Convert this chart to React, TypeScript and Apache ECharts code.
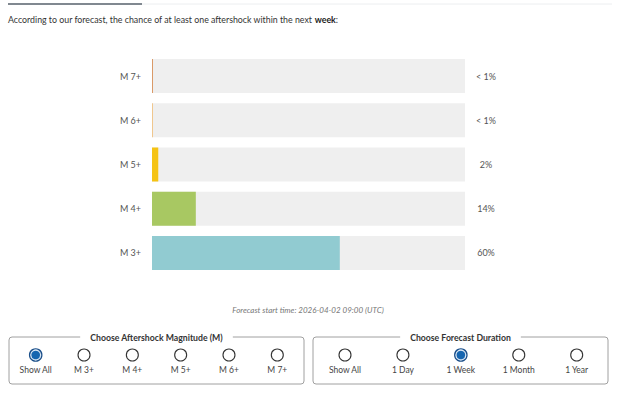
import React, { useEffect, useRef } from "react";
import * as echarts from "echarts";

const categories = ["M 7+", "M 6+", "M 5+", "M 4+", "M 3+"];
const chanceValues = [0.3, 0.3, 2, 14, 60];
const chanceLabels = ["< 1%", "< 1%", "2%", "14%", "60%"];
const barColors = ["#d9955f", "#f0c588", "#f5c314", "#a8c862", "#91cbd1"];
const magnitudeOptions = ["Show All", "M 3+", "M 4+", "M 5+", "M 6+", "M 7+"];
const durationOptions = ["Show All", "1 Day", "1 Week", "1 Month", "1 Year"];
const selectedMagnitude = 0;
const selectedDuration = 2;

const FONT = "Lato, 'Noto Sans', sans-serif";

function radioGroup(
  title: string,
  options: string[],
  selected: number,
  left: number,
  width: number,
  firstX: number,
  lastX: number
) {
  const top = 337;
  const height = 47;
  const els: any[] = [];
  els.push({
    type: "rect",
    shape: { x: left, y: top, width, height, r: 3 },
    style: { fill: "none", stroke: "#a0a0a0", lineWidth: 1 },
  });
  els.push({
    type: "text",
    x: left + width / 2,
    y: top,
    style: {
      text: title,
      fill: "#333",
      font: `bold 8.7px ${FONT}`,
      align: "center",
      verticalAlign: "middle",
      backgroundColor: "#fff",
      padding: [0, 10],
    },
  });
  const step = (lastX - firstX) / (options.length - 1);
  options.forEach((o, i) => {
    const cx = firstX + i * step;
    if (i === selected) {
      els.push({
        type: "circle",
        shape: { cx, cy: 355, r: 6.2 },
        style: { fill: "#dbe8f5", stroke: "#1b4f8a", lineWidth: 1.2 },
      });
      els.push({
        type: "circle",
        shape: { cx, cy: 355, r: 4.3 },
        style: { fill: "#1565b0" },
      });
    } else {
      els.push({
        type: "circle",
        shape: { cx, cy: 355, r: 6 },
        style: { fill: "#fff", stroke: "#333", lineWidth: 1.1 },
      });
    }
    els.push({
      type: "text",
      x: cx,
      y: 369.5,
      style: {
        text: o,
        fill: "#444",
        font: `8.5px ${FONT}`,
        align: "center",
        verticalAlign: "middle",
      },
    });
  });
  return els;
}

export default function App() {
  const ref = useRef<HTMLDivElement>(null);
  useEffect(() => {
    if (!ref.current) return;
    const chart = echarts.init(ref.current, undefined, { renderer: "svg" });
    chart.setOption({
      animation: false,
      backgroundColor: "#fff",
      grid: { left: 152, right: 155, top: 54, height: 221, containLabel: false },
      xAxis: {
        type: "value",
        min: 0,
        max: 100,
        show: false,
      },
      yAxis: [
        {
          type: "category",
          data: categories,
          inverse: true,
          axisLine: { show: false },
          axisTick: { show: false },
          axisLabel: { margin: 11, color: "#555", fontSize: 9, fontFamily: FONT },
        },
        {
          type: "category",
          data: chanceLabels,
          inverse: true,
          position: "right",
          axisLine: { show: false },
          axisTick: { show: false },
          axisLabel: {
            margin: 21,
            align: "center",
            color: "#555",
            fontSize: 9,
            fontFamily: FONT,
          },
        },
      ],
      series: [
        {
          type: "bar",
          yAxisIndex: 0,
          data: chanceValues.map((v, i) => ({ value: v, itemStyle: { color: barColors[i] } })),
          barWidth: 34,
          showBackground: true,
          backgroundStyle: { color: "#efefef" },
        },
      ],
      graphic: [
        {
          type: "line",
          shape: { x1: 142, y1: 4, x2: 612, y2: 4 },
          style: { stroke: "#eceef0", lineWidth: 1 },
        },
        {
          type: "line",
          shape: { x1: 8, y1: 4, x2: 142, y2: 4 },
          style: { stroke: "#56606b", lineWidth: 1.6 },
        },
        {
          type: "text",
          x: 8,
          y: 19,
          style: {
            text: "According to our forecast, the chance of at least one aftershock within the next {b|week}:",
            fill: "#333",
            font: `8.8px ${FONT}`,
            verticalAlign: "middle",
            rich: { b: { fontWeight: "bold", fill: "#222", fontSize: 8.8, fontFamily: FONT } },
          },
        },
        {
          type: "text",
          x: 308,
          y: 310,
          style: {
            text: "Forecast start time: 2026-04-02 09:00 (UTC)",
            fill: "#777",
            font: `italic 8px ${FONT}`,
            align: "center",
            verticalAlign: "middle",
          },
        },
        ...radioGroup("Choose Aftershock Magnitude (M)", magnitudeOptions, selectedMagnitude, 9, 295, 35.7, 277.3),
        ...radioGroup("Choose Forecast Duration", durationOptions, selectedDuration, 313, 295, 345, 576.7),
      ],
    });
    return () => chart.dispose();
  }, []);
  return (
    <div
      ref={ref}
      style={{ position: "fixed", left: 0, top: 0, width: 620, height: 395 }}
    />
  );
}
